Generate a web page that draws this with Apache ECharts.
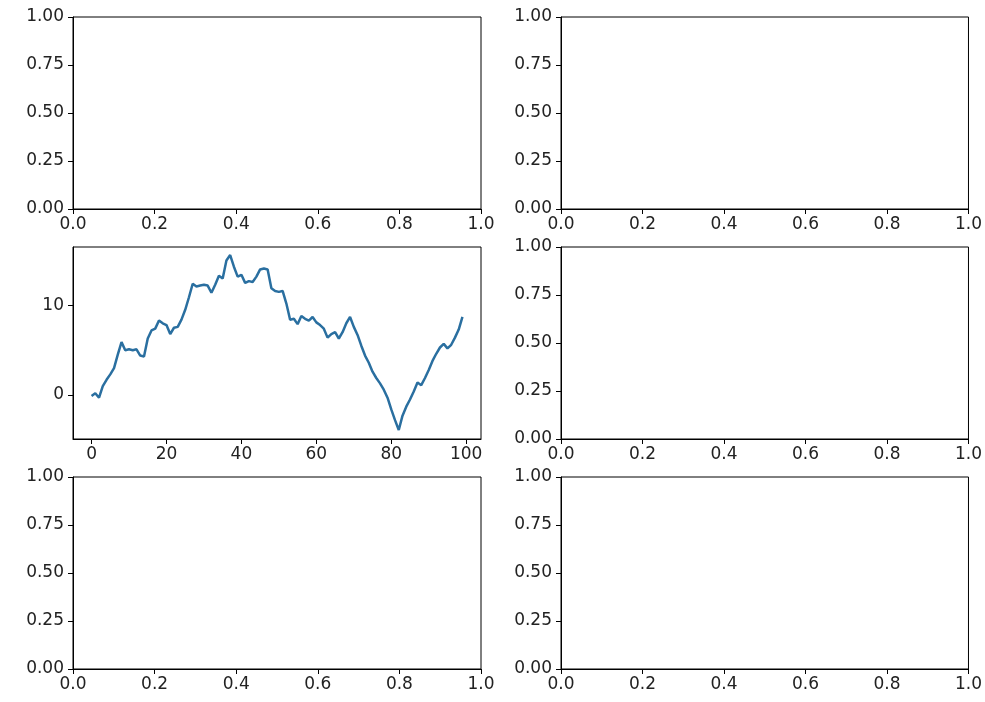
<!DOCTYPE html>
<html>
<head>
<meta charset="utf-8">
<script src="https://cdn.jsdelivr.net/npm/echarts@6/dist/echarts.min.js"></script>
<style>html,body{margin:0;padding:0;background:#fff}#c{width:985px;height:702px}</style>
</head>
<body>
<div id="c"></div>
<script>
// Random-walk values plotted in the middle-left panel (x = index 0..99)
const walkValues = [
  -0.1, 0.2, -0.3, 1.0, 1.7, 2.3, 3.0, 4.5, 5.9, 5.0,
  5.1, 5.0, 5.1, 4.4, 4.3, 6.3, 7.2, 7.4, 8.3, 8.0,
  7.8, 6.8, 7.5, 7.6, 8.4, 9.5, 10.9, 12.4, 12.1, 12.2,
  12.3, 12.2, 11.4, 12.3, 13.3, 13.0, 15.0, 15.6, 14.3, 13.2,
  13.4, 12.5, 12.7, 12.6, 13.2, 14.0, 14.1, 14.0, 11.9, 11.6,
  11.5, 11.6, 10.2, 8.4, 8.5, 7.9, 8.8, 8.5, 8.3, 8.7,
  8.1, 7.8, 7.4, 6.4, 6.8, 7.0, 6.3, 7.0, 8.0, 8.7,
  7.6, 6.7, 5.5, 4.4, 3.6, 2.6, 1.9, 1.3, 0.6, -0.3,
  -1.6, -2.8, -3.9, -2.3, -1.3, -0.5, 0.4, 1.4, 1.1, 1.9,
  2.8, 3.8, 4.6, 5.3, 5.7, 5.2, 5.6, 6.4, 7.3, 8.7
];
// Tick values
const unitXTicks = [0, 0.2, 0.4, 0.6, 0.8, 1.0];
const unitYTicks = [0, 0.25, 0.5, 0.75, 1.0];
const walkXTicks = [0, 20, 40, 60, 80, 100];
const walkYTicks = [0, 10];

const FONT = 'DejaVu Sans';
const FS = 17;
const lefts = [73, 561];
const tops = [17, 247, 477];
const W = 408, H = 192;

const grids = [], xAxes = [], yAxes = [], series = [];
let idx = 0;
for (let r = 0; r < 3; r++) {
  for (let c = 0; c < 2; c++) {
    grids.push({left: lefts[c], top: tops[r], width: W, height: H, show: true,
      borderColor: '#000', borderWidth: 1, backgroundColor: 'transparent', containLabel: false});
    const isWalk = (r === 1 && c === 0);
    const xt = isWalk ? walkXTicks : unitXTicks;
    const yt = isWalk ? walkYTicks : unitYTicks;
    const xMin = isWalk ? -4.95 : 0, xMax = isWalk ? 103.95 : 1;
    const yMin = isWalk ? -4.9 : 0, yMax = isWalk ? 16.5 : 1;
    xAxes.push({
      type: 'value', gridIndex: idx, min: xMin, max: xMax,
      axisLine: {show: true, onZero: false, lineStyle: {color: '#000', width: 1}},
      axisTick: {show: true, inside: false, length: 5, lineStyle: {color: '#000'}, customValues: xt},
      axisLabel: {show: true, customValues: xt, margin: 7, color: '#222', fontFamily: FONT, fontSize: FS,
        formatter: v => isWalk ? String(Math.round(v)) : v.toFixed(1)},
      splitLine: {show: false}
    });
    yAxes.push({
      type: 'value', gridIndex: idx, min: yMin, max: yMax,
      axisLine: {show: true, onZero: false, lineStyle: {color: '#000', width: 1}},
      axisTick: {show: true, inside: false, length: 5, lineStyle: {color: '#000'}, customValues: yt},
      axisLabel: {show: true, customValues: yt, margin: 9, color: '#222', fontFamily: FONT, fontSize: FS,
        formatter: v => isWalk ? String(Math.round(v)) : v.toFixed(2)},
      splitLine: {show: false}
    });
    if (isWalk) {
      series.push({
        type: 'line', xAxisIndex: idx, yAxisIndex: idx,
        data: walkValues.map((v, i) => [i, v]),
        showSymbol: false, symbol: 'none',
        lineStyle: {color: '#2a6fa0', width: 2.5},
        animation: false
      });
    }
    idx++;
  }
}

const chart = echarts.init(document.getElementById('c'), null, {renderer: 'canvas'});
chart.setOption({
  animation: false,
  backgroundColor: '#fff',
  grid: grids, xAxis: xAxes, yAxis: yAxes, series: series
});
</script>
</body>
</html>
